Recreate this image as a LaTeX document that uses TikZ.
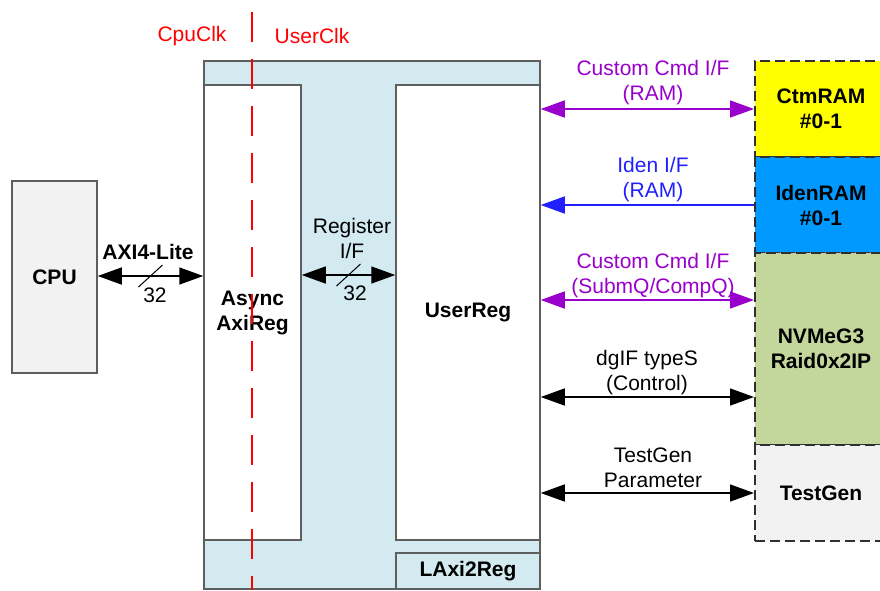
\documentclass[tikz,border=0pt]{standalone}
\usepackage{fontspec}
\setmainfont{Liberation Sans}
\usetikzlibrary{arrows.meta,calc}
\definecolor{bgray}{HTML}{5E5E5E}
\definecolor{lblue}{HTML}{D2EAF0}
\definecolor{cpugray}{HTML}{F2F2F2}
\definecolor{ramyellow}{HTML}{FFFF00}
\definecolor{ramblue}{HTML}{0099FF}
\definecolor{ipgreen}{HTML}{C3D69B}
\definecolor{cmdpurple}{HTML}{9900CC}
\definecolor{idenblue}{HTML}{2020FF}
\definecolor{clkred}{HTML}{FF0000}
\definecolor{dashgray}{HTML}{303030}
\begin{document}
\begin{tikzpicture}[x=1pt,y=-1pt,
  every node/.style={font=\fontsize{21}{25}\selectfont, inner sep=0pt},
  solidbox/.style={draw=bgray, line width=1.5pt, align=center, font=\fontsize{21}{25}\selectfont\bfseries},
  dashbox/.style={draw=dashgray, line width=2pt, dash pattern=on 10pt off 5pt, align=center, font=\fontsize{21}{25}\selectfont\bfseries},
  biarrow/.style={line width=1.5pt, {Triangle[length=24pt,width=17pt]}-{Triangle[length=24pt,width=17pt]}},
  onearrow/.style={line width=1.5pt, -{Triangle[length=24pt,width=17pt]}},
  lbl/.style={align=center},
  slashmark/.style={line width=1pt, draw=black}
]
\useasboundingbox (0,0) rectangle (880,590);
\clip (0,0) rectangle (880,590);

% LAxi2Reg outer
\node[solidbox, fill=lblue, minimum width=336pt, minimum height=528pt] (lax) at (372,325) {};
\node[solidbox, fill=white, minimum width=97pt, minimum height=455pt] (async) at (252.5,312.5) {Async\\AxiReg};
\node[solidbox, fill=white, minimum width=144pt, minimum height=455pt] (userreg) at (468,312.5) {UserReg};
\node[solidbox, fill=lblue, minimum width=144pt, minimum height=36pt] (laxlbl) at (468,571) {LAxi2Reg};

% CPU
\node[solidbox, fill=cpugray, minimum width=85pt, minimum height=192pt] (cpu) at (54.5,277) {CPU};

% right boxes
\node[dashbox, fill=ramyellow, minimum width=132pt, minimum height=96pt] (ctm) at (821,109) {CtmRAM\\\#0-1};
\node[dashbox, fill=ramblue, minimum width=132pt, minimum height=96pt] (iden) at (821,205) {IdenRAM\\\#0-1};
\node[dashbox, fill=ipgreen, minimum width=132pt, minimum height=192pt] (nvme) at (821,349) {NVMeG3\\Raid0x2IP};
\node[dashbox, fill=cpugray, minimum width=132pt, minimum height=96pt] (tg) at (821,493) {TestGen};

% clock domain line
\draw[clkred, line width=2pt, dash pattern=on 30pt off 17pt] (252,12) -- (252,590);
\node[text=clkred] (cpuclk) at (192,36) {CpuClk};
\node[text=clkred] (userclk) at (312,36) {UserClk};

% AXI4-Lite
\draw[biarrow] (cpu.east |- 0,276) coordinate (axiL) -- (async.west |- 0,276) coordinate (axiR);
\node[font=\fontsize{21}{25}\selectfont\bfseries] (axilbl) at (148,252) {AXI4-Lite};
\coordinate (axim) at ($(axiL)!0.5!(axiR)$);
\draw[slashmark] ($(axim)+(-12,11)$) -- ($(axim)+(12,-11)$);
\node (axiw) at (155,295) {32};

% Register I/F
\draw[biarrow] (async.east |- 0,275) coordinate (regL) -- (userreg.west |- 0,275) coordinate (regR);
\node[lbl] (reglbl) at (352,238) {Register\\I/F};
\coordinate (regm) at ($(regL)!0.5!(regR)$);
\draw[slashmark] ($(regm)+(-12,11)$) -- ($(regm)+(12,-11)$);
\node (regw) at (355,293) {32};

% right interfaces
\draw[biarrow, draw=cmdpurple, fill=cmdpurple] (userreg.east |- ctm.west) -- (ctm.west);
\node[lbl, text=cmdpurple] (ctmlbl) at (653,83) {Custom Cmd I/F\\(RAM)};

\draw[onearrow, draw=idenblue, fill=idenblue] (iden.west) -- (userreg.east |- iden.west);
\node[lbl, text=idenblue] (idenlbl) at (653,180) {Iden I/F\\(RAM)};

\draw[biarrow, draw=cmdpurple, fill=cmdpurple] (userreg.east |- 0,300) -- ([yshift=49pt]nvme.west);
\node[lbl, text=cmdpurple] (sqlbl) at (653,276) {Custom Cmd I/F\\(SubmQ/CompQ)};

\draw[biarrow] (userreg.east |- 0,397) -- ([yshift=-48pt]nvme.west);
\node[lbl] (dglbl) at (647,373) {dgIF typeS\\(Control)};

\draw[biarrow] (userreg.east |- tg.west) -- (tg.west);
\node[lbl] (tglbl) at (653,468) {TestGen\\Parameter};
\end{tikzpicture}
\end{document}
